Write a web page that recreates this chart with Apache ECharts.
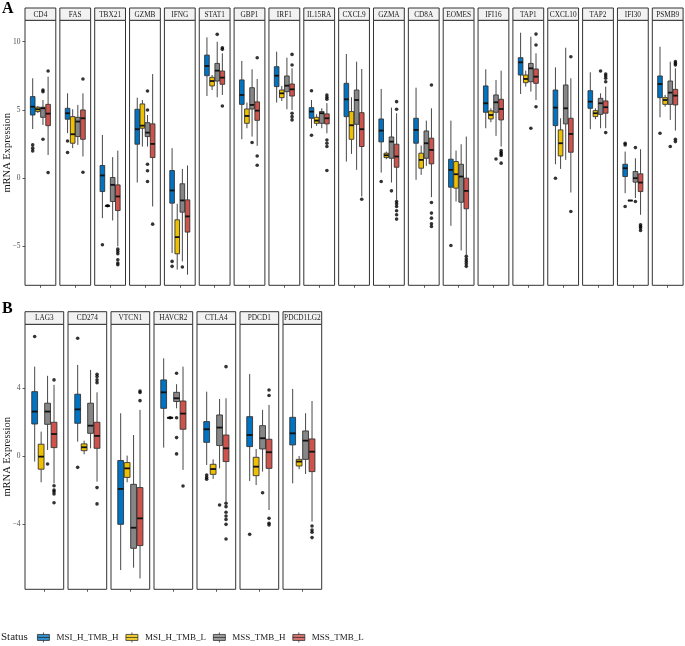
<!DOCTYPE html>
<html><head><meta charset="utf-8">
<script src="https://cdn.jsdelivr.net/npm/echarts@6/dist/echarts.min.js"></script>
<style>html,body{margin:0;padding:0;background:#fff}#c{width:685px;height:646px}</style>
</head><body><div id="c"></div>
<script>
// ---------------- DATA ----------------
const groups = ['MSI_H_TMB_H', 'MSI_H_TMB_L', 'MSS_TMB_H', 'MSS_TMB_L'];
const ticksA = [-5, 0, 5, 10];
const ticksB = [-4, 0, 4];

const genesA = ['CD4','FAS','TBX21','GZMB','IFNG','STAT1','GBP1','IRF1','IL15RA','CXCL9','GZMA','CD8A','EOMES','IFI16','TAP1','CXCL10','TAP2','IFI30','PSMB9'];
// [min whisker, Q1, median, Q3, max whisker]
const boxA_HH = [
  [3.6,4.63,5.24,5.98,7.32],[3.3,4.32,4.76,5.12,6.22],[-2.93,-0.98,0.2,0.93,3.17],[-0.32,2.49,3.59,5.05,5.9],
  [-5.49,-1.83,-0.9,0.56,2.2],[6.02,7.51,8.22,9.02,10.32],[2.85,5.41,6.1,7.2,8.59],[5.54,6.71,7.51,8.17,9.27],
  [3.66,4.39,4.88,5.17,5.73],[1.22,4.51,5.78,6.95,9.1],[0.41,2.66,3.49,4.34,6.54],[-0.12,2.56,3.54,4.39,6.63],
  [-3.49,-0.66,0.61,1.39,4.22],[3.66,4.83,5.49,6.76,7.98],[6.17,7.56,8.49,8.83,10.66],[1.02,3.85,5.17,6.46,8.12],
  [3.59,5.12,5.61,6.41,7.76],[-1.1,0.12,0.73,1.02,1.95],[4.46,5.9,6.9,7.49,9.63]];
const boxA_HL = [
  [4.78,4.88,5.05,5.2,5.3],[2.2,2.56,3.22,4.51,5.05],[-2.02,-2.02,-2.02,-2.02,-2.02],[2.32,3.66,3.85,5.44,5.73],
  [-6.7,-5.54,-4.32,-3.05,-1.88],[6.46,6.76,7.12,7.39,7.56],[3.66,4.02,4.56,5.07,5.54],[5.66,5.9,6.22,6.46,6.76],
  [3.83,4.02,4.22,4.46,4.68],[1.78,2.85,3.88,4.88,5.93],[1.39,1.51,1.68,1.83,1.95],[0.24,0.73,1.34,1.83,2.39],
  [-1.71,-0.73,0.29,1.22,2.02],[4.1,4.34,4.63,4.93,5.12],[6.71,7.0,7.27,7.56,7.88],[0.68,1.63,2.56,3.54,4.39],
  [4.32,4.51,4.76,4.95,5.12],[-1.63,-1.63,-1.63,-1.63,-1.63],[5.24,5.41,5.73,5.9,6.1]];
const boxA_SH = [
  [3.9,4.46,5.12,5.2,5.73],[2.44,3.05,4.15,4.46,5.37],[-3.1,-1.71,-0.49,0.05,1.54],[2.32,3.05,3.34,4.07,4.63],
  [-6.1,-2.49,-1.63,-0.41,0.68],[5.93,7.12,7.88,8.41,10.0],[3.05,5.07,5.37,6.63,7.98],[5.05,6.34,6.78,7.49,8.83],
  [3.66,4.02,4.76,4.88,5.12],[0.61,3.95,5.73,6.46,8.54],[-0.32,1.46,2.68,3.02,5.17],[0.9,1.46,2.56,3.46,4.22],
  [-5.29,-1.76,0.12,1.02,2.49],[3.1,4.83,5.56,6.1,7.2],[6.34,7.07,8.05,8.41,10.37],[1.34,3.98,5.12,6.83,9.56],
  [3.66,4.68,5.49,5.85,6.22],[-1.46,-0.29,0.0,0.49,1.46],[4.27,5.41,6.27,7.12,8.54]];
const boxA_SL = [
  [1.7,3.85,4.73,5.41,7.44],[1.59,2.85,4.39,5.0,6.22],[-5.0,-2.37,-1.34,-0.49,2.02],[-2.07,1.51,2.51,3.98,7.63],
  [-7.07,-3.95,-2.8,-1.59,0.93],[6.1,6.88,7.37,7.85,9.15],[2.37,4.24,4.95,5.59,7.27],[5.0,6.02,6.51,6.9,8.05],
  [3.29,3.98,4.39,4.71,5.5],[-1.34,2.32,3.59,4.8,8.0],[-1.59,0.8,1.59,2.49,4.76],[-1.39,1.05,2.07,2.93,5.12],
  [-5.61,-2.24,-0.93,0.0,3.05],[2.32,4.27,5.07,5.78,7.88],[5.73,6.95,7.44,8.0,9.15],[-1.05,1.9,3.24,4.39,7.32],
  [3.66,4.76,5.2,5.66,6.71],[-2.68,-0.98,-0.32,0.32,2.12],[3.49,5.37,6.05,6.51,8.05]];
// outliers
const outA_HH = [[2.44,2.2,2.0],[2.73,1.88],[-4.88],[],[-6.1,-6.46],[],[],[],[6.41,3.15],[],[-0.24],[],[-4.93],[],[],[0.0],[],[2.56,2.44,-2.07],[3.29]];
const outA_HL = [[],[],[-2.02],[],[],[],[],[],[],[],[],[],[],[],[],[],[],[],[]];
const outA_SH = [[6.46,6.34,2.85],[],[],[6.39,5.0,1.02,0.54,-0.24],[-6.51],[10.54],[2.61],[],[],[],[-0.93],[],[],[1.41],[3.66],[],[7.85],[2.24,-1.71],[2.32]];
const outA_SL = [[7.85,0.41],[7.27,0.44],[-5.2,-5.37,-5.54,-5.98,-6.22,-6.34],[-3.37],[],[9.56,9.44,5.29],[8.83,1.63,0.95],
  [9.07,8.29,4.76,4.51,4.27],[6.1,5.93,5.78,2.8,2.56,2.32,0.56],[-1.54],[5.61,5.05,-1.71,-1.88,-2.07,-2.39,-2.68,-3.0],
  [6.83,-1.78,-2.56,-2.93,-3.34,-3.54],[-5.73,-5.93,-6.1,-6.27,-6.46],[2.02,1.88,1.78,1.66,1.1],[10.56,9.76,5.24],
  [8.9,-2.44],[7.63,7.49,7.32,7.07,3.34],[-3.41,-3.54,-3.66,-3.83],[8.54,8.41,8.29,2.85,2.68]];

const genesB = ['LAG3','CD274','VTCN1','HAVCR2','CTLA4','PDCD1','PDCD1LG2'];
const boxB_HH = [[-0.31,1.9,2.63,3.8,5.27],[0.86,1.94,2.76,3.65,5.37],[-6.69,-4.0,-1.92,-0.25,2.53],[0.51,2.82,3.76,4.49,5.76],
  [-0.51,0.82,1.59,2.04,3.8],[-1.45,0.57,1.25,2.33,4.84],[-1.59,0.67,1.35,2.29,3.96]];
const boxB_HL = [[-1.53,-0.76,-0.02,0.71,1.45],[0.12,0.33,0.53,0.73,0.92],[-1.53,-1.24,-0.71,-0.37,0.04],[2.27,2.27,2.27,2.27,2.27],
  [-1.33,-1.06,-0.75,-0.47,-0.18],[-1.69,-1.14,-0.61,-0.06,0.43],[-0.76,-0.57,-0.31,-0.18,0.02]];
const boxB_SH = [[0.37,1.88,2.63,3.12,4.73],[0.47,1.35,1.8,3.12,5.08],[-6.55,-5.41,-4.2,-1.65,1.25],[2.82,3.22,3.41,3.76,4.24],
  [-0.71,0.63,1.69,2.43,3.37],[-0.9,0.43,1.06,1.8,2.73],[-1.04,-0.18,0.92,1.49,2.53]];
const boxB_SL = [[-1.59,0.51,1.31,2.0,4.2],[-1.49,0.47,1.2,2.0,3.76],[-7.18,-5.25,-3.65,-1.84,2.73],[-0.8,1.59,2.51,3.25,5.27],
  [-2.67,-0.31,0.47,1.25,3.41],[-3.16,-0.71,0.24,1.0,3.02],[-3.84,-0.9,0.27,1.02,3.25]];
const outB_HH = [[7.04],[6.94,-0.65],[],[],[-1.1,-1.24,-1.35],[-4.59],[]];
const outB_HL = [[],[],[],[2.27],[],[],[]];
const outB_SH = [[-0.45],[],[],[4.88,2.27,1.1,0.14],[-2.86],[-2.14],[]];
const outB_SL = [[4.49,-1.73,-1.98,-2.08,-2.22,-2.73],[4.82,4.69,4.49,4.33,-1.84,-2.8],[3.84,3.75,3.27],[-1.75],
  [5.27,-2.76,-2.96,-3.29,-3.51,-3.71,-4.0,-4.86],[3.9,3.57,-3.65,-3.94,-4.04],[-4.1,-4.33,-4.47,-4.78]];

// ---------------- STYLE / LAYOUT ----------------
const COLORS = ['#0073C2', '#EFC000', '#868686', '#CD534C'];
const OFFS = [-0.3, -0.1, 0.1, 0.3];
const BOX_W = 0.18;
const FONT = "'Liberation Serif', 'DejaVu Serif', serif";
const LINE = '#333';

const layoutA = {left0: 25, step: 34.85, width: 30.8, top: 20.3, height: 265, stripTop: 8, stripH: 12.3, yMin: -7.85, yMax: 11.57, ticks: ticksA};
const layoutB = {left0: 25, step: 43, width: 38.7, top: 324.3, height: 265, stripTop: 311.7, stripH: 12.6, yMin: -7.82, yMax: 7.76, ticks: ticksB};

function renderBox(params, api) {
  const x = api.value(0);
  const g = api.value(6);
  const pMin = api.coord([x, api.value(1)]);
  const pQ1 = api.coord([x, api.value(2)]);
  const pMed = api.coord([x, api.value(3)]);
  const pQ3 = api.coord([x, api.value(4)]);
  const pMax = api.coord([x, api.value(5)]);
  const w = api.size([BOX_W, 0])[0];
  return {type: 'group', children: [
    {type: 'line', shape: {x1: pMax[0], y1: pMax[1], x2: pQ3[0], y2: pQ3[1]}, style: {stroke: LINE, lineWidth: 0.9}},
    {type: 'line', shape: {x1: pQ1[0], y1: pQ1[1], x2: pMin[0], y2: pMin[1]}, style: {stroke: LINE, lineWidth: 0.9}},
    {type: 'rect', shape: {x: pQ3[0] - w / 2, y: pQ3[1], width: w, height: Math.max(pQ1[1] - pQ3[1], 0.6)},
      style: {fill: COLORS[g], stroke: LINE, lineWidth: 0.9}},
    {type: 'line', shape: {x1: pMed[0] - w / 2, y1: pMed[1], x2: pMed[0] + w / 2, y2: pMed[1]}, style: {stroke: '#111', lineWidth: 1.8}}
  ]};
}

const grids = [], xAxes = [], yAxes = [], series = [], graphics = [];
function minus(v) { return String(v).replace('-', '\u2212'); }

function addPanel(genes, boxes, outs, L) {
  genes.forEach(function (gene, i) {
    const gi = grids.length;
    const left = L.left0 + i * L.step;
    const first = i === 0;
    grids.push({left: left, top: L.top, width: L.width, height: L.height, show: true,
      borderColor: LINE, borderWidth: 1, backgroundColor: '#fff', outerBoundsMode: 'none'});
    xAxes.push({gridIndex: gi, type: 'value', min: -0.6, max: 0.6, position: 'bottom',
      axisLine: {show: false, onZero: false}, splitLine: {show: false}, axisLabel: {show: false},
      axisTick: {show: true, customValues: [0], length: 2.5, lineStyle: {color: LINE, width: 0.8}}});
    yAxes.push({gridIndex: gi, type: 'value', min: L.yMin, max: L.yMax, position: 'left',
      axisLine: {show: false, onZero: false}, splitLine: {show: false},
      axisTick: {show: first, customValues: L.ticks, length: 2.5, lineStyle: {color: LINE, width: 0.8}},
      axisLabel: {show: first, customValues: L.ticks, formatter: minus, fontSize: 7.5, color: '#4d4d4d', margin: 4.5, fontFamily: FONT},
      name: first ? 'mRNA Expression' : '', nameLocation: 'middle', nameGap: 12, nameMoveOverlap: false,
      nameTextStyle: {fontSize: 10.5, color: '#1a1a1a', fontFamily: FONT}});
    series.push({type: 'custom', xAxisIndex: gi, yAxisIndex: gi, silent: true, z: 2, renderItem: renderBox,
      data: groups.map(function (g, k) { return [OFFS[k]].concat(boxes[k][i]).concat([k]); })});
    const pts = [];
    groups.forEach(function (g, k) { outs[k][i].forEach(function (v) { pts.push([OFFS[k], v]); }); });
    series.push({type: 'scatter', xAxisIndex: gi, yAxisIndex: gi, silent: true, z: 3, symbolSize: 3.6,
      itemStyle: {color: '#000'}, data: pts});
    // strip
    graphics.push({type: 'rect', shape: {x: left, y: L.stripTop, width: L.width, height: L.stripH},
      style: {fill: '#f2f2f2', stroke: LINE, lineWidth: 1}, silent: true});
    graphics.push({type: 'text', x: left + L.width / 2, y: L.stripTop + L.stripH / 2 + 0.5, silent: true,
      style: {text: gene, fill: '#1a1a1a', fontSize: 7.3, fontFamily: FONT, align: 'center', verticalAlign: 'middle'}});
  });
}

addPanel(genesA, [boxA_HH, boxA_HL, boxA_SH, boxA_SL], [outA_HH, outA_HL, outA_SH, outA_SL], layoutA);
addPanel(genesB, [boxB_HH, boxB_HL, boxB_SH, boxB_SL], [outB_HH, outB_HL, outB_SH, outB_SL], layoutB);

// legend carrier series
groups.forEach(function (g, k) {
  series.push({type: 'scatter', name: g, xAxisIndex: 0, yAxisIndex: 0, data: [], itemStyle: {color: COLORS[k]}});
});

graphics.push({type: 'text', x: 2, y: 1, silent: true, style: {text: 'A', fill: '#000', fontSize: 16, fontWeight: 'bold', fontFamily: FONT, align: 'left', verticalAlign: 'top'}});
graphics.push({type: 'text', x: 2, y: 301, silent: true, style: {text: 'B', fill: '#000', fontSize: 16, fontWeight: 'bold', fontFamily: FONT, align: 'left', verticalAlign: 'top'}});
graphics.push({type: 'text', x: 1, y: 637.5, silent: true, style: {text: 'Status', fill: '#1a1a1a', fontSize: 11, fontFamily: FONT, align: 'left', verticalAlign: 'middle'}});

const chart = echarts.init(document.getElementById('c'), null, {renderer: 'canvas'});
chart.setOption({
  animation: false,
  backgroundColor: '#fff',
  textStyle: {fontFamily: FONT},
  grid: grids, xAxis: xAxes, yAxis: yAxes, series: series,
  legend: {left: 32, top: 627, itemWidth: 12, itemHeight: 10, itemGap: 7, selectedMode: false,
    icon: 'path://M6 0 L6 2 M0 2 L12 2 L12 8 L0 8 Z M0 5 L12 5 M6 8 L6 10',
    data: groups, itemStyle: {borderColor: '#222', borderWidth: 0.9},
    textStyle: {fontSize: 9, color: '#1a1a1a', fontFamily: FONT, padding: [0, 0, 0, 2]}},
  graphic: {elements: graphics}
});
</script></body></html>
